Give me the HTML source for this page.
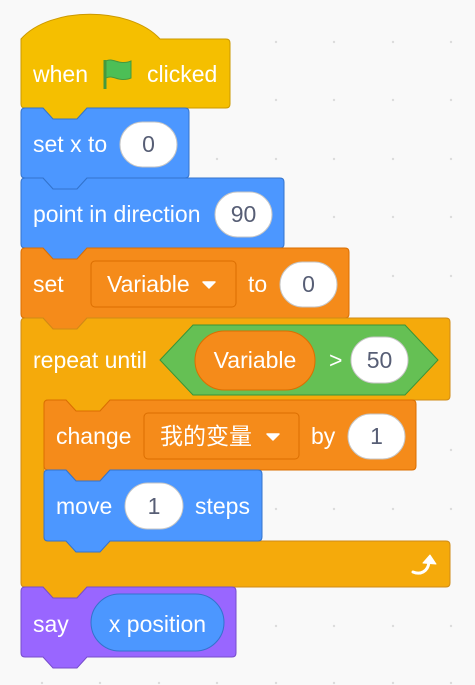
<!DOCTYPE html>
<html><head><meta charset="utf-8"><style>
html,body{margin:0;padding:0;background:#f9f9f9;}
svg{display:block;}
text{font-family:"Liberation Sans","Noto Sans CJK SC",sans-serif;font-size:23px;fill:#fff;}
.n{fill:#575e75;text-anchor:middle;}
.w{fill:#fff;stroke:#c6c6c6;stroke-width:1;}
</style></head><body>
<svg width="475" height="685" viewBox="0 0 475 685" xmlns="http://www.w3.org/2000/svg">
<g fill="#dcdcdc">
<circle cx="276" cy="42" r="1.2"/><circle cx="334" cy="42" r="1.2"/><circle cx="393" cy="42" r="1.2"/><circle cx="451" cy="42" r="1.2"/>
<circle cx="276" cy="100" r="1.2"/><circle cx="334" cy="100" r="1.2"/><circle cx="393" cy="100" r="1.2"/><circle cx="451" cy="100" r="1.2"/>
<circle cx="217" cy="159" r="1.2"/><circle cx="276" cy="159" r="1.2"/><circle cx="334" cy="159" r="1.2"/><circle cx="393" cy="159" r="1.2"/><circle cx="451" cy="159" r="1.2"/>
<circle cx="334" cy="217" r="1.2"/><circle cx="393" cy="217" r="1.2"/><circle cx="451" cy="217" r="1.2"/>
<circle cx="393" cy="276" r="1.2"/><circle cx="451" cy="276" r="1.2"/>
<circle cx="451" cy="450" r="1.2"/>
<circle cx="276" cy="509" r="1.2"/><circle cx="334" cy="509" r="1.2"/><circle cx="393" cy="509" r="1.2"/><circle cx="451" cy="509" r="1.2"/>
<circle cx="276" cy="626" r="1.2"/><circle cx="334" cy="626" r="1.2"/><circle cx="393" cy="626" r="1.2"/><circle cx="451" cy="626" r="1.2"/>
<circle cx="42" cy="683" r="1.2"/><circle cx="100" cy="683" r="1.2"/><circle cx="159" cy="683" r="1.2"/><circle cx="217" cy="683" r="1.2"/><circle cx="276" cy="683" r="1.2"/><circle cx="334" cy="683" r="1.2"/><circle cx="393" cy="683" r="1.2"/><circle cx="451" cy="683" r="1.2"/>
</g>

<!-- hat -->
<path d="M21,39 C50,6 130,6 160,39 H226 Q230,39 230,43 V104 Q230,108 226,108 H87 l-10,11 h-24 l-10,-11 H25 Q21,108 21,104 Z" fill="#f5bf00" stroke="#cc9900" stroke-width="1"/>
<text x="33" y="82">when</text>
<line x1="105" y1="60" x2="105" y2="89" stroke="#45993d" stroke-width="3"/>
<path d="M106,61 C113,57 119,66 131,61 V78 C119,83 113,74 106,78 Z" fill="#4cbf56" stroke="#45993d" stroke-width="1"/>
<text x="147" y="82">clicked</text>

<!-- set x -->
<path d="M21,112 Q21,108 25,108 H43 l10,11 h24 l10,-11 H185 Q189,108 189,112 V174 Q189,178 185,178 H87 l-10,11 h-24 l-10,-11 H25 Q21,178 21,174 Z" fill="#4c97ff" stroke="#3373cc"/>
<text x="33" y="152">set x to</text>
<rect class="w" x="120" y="122" width="57" height="45" rx="22.5"/>
<text class="n" x="148.5" y="152">0</text>

<!-- point in direction -->
<path d="M21,182 Q21,178 25,178 H43 l10,11 h24 l10,-11 H280 Q284,178 284,182 V244 Q284,248 280,248 H87 l-10,11 h-24 l-10,-11 H25 Q21,248 21,244 Z" fill="#4c97ff" stroke="#3373cc"/>
<text x="33" y="222">point in direction</text>
<rect class="w" x="215" y="192" width="57" height="45" rx="22.5"/>
<text class="n" x="243.5" y="222">90</text>

<!-- set variable -->
<path d="M21,252 Q21,248 25,248 H43 l10,11 h24 l10,-11 H345 Q349,248 349,252 V314 Q349,318 345,318 H87 l-10,11 h-24 l-10,-11 H25 Q21,318 21,314 Z" fill="#f58b1a" stroke="#db6e00"/>
<text x="33" y="292">set</text>
<rect x="91" y="261" width="145" height="46" rx="4" fill="#f58b1a" stroke="#db6e00"/>
<text x="107" y="292">Variable</text>
<path d="M203,282 h12 l-6,6 Z" fill="#fff" stroke="#fff" stroke-linejoin="round" stroke-width="1.5"/>
<text x="248" y="292">to</text>
<rect class="w" x="280" y="262" width="57" height="45" rx="22.5"/>
<text class="n" x="308.5" y="292">0</text>

<!-- repeat until -->
<path d="M21,322 Q21,318 25,318 H43 l10,11 h24 l10,-11 H446 Q450,318 450,322 V396 Q450,400 446,400 H110 l-10,11 h-24 l-10,-11 H48 Q44,400 44,404 V537 Q44,541 48,541 H446 Q450,541 450,545 V583 Q450,587 446,587 H87 l-10,11 h-24 l-10,-11 H25 Q21,587 21,583 Z" fill="#f5aa0b" stroke="#cf8b17"/>
<text x="33" y="368">repeat until</text>
<path d="M160,360 L193,325 H405 L438,360 L405,395 H193 Z" fill="#65c054" stroke="#389438"/>
<rect x="195" y="331" width="120" height="59" rx="29.5" fill="#f58b1a" stroke="#db6e00"/>
<text x="255" y="368" text-anchor="middle">Variable</text>
<text x="329" y="368">&gt;</text>
<rect class="w" x="351" y="337" width="57" height="46" rx="23"/>
<text class="n" x="379.5" y="368">50</text>
<path d="M413,572 C420,575 428,572 429,562" fill="none" stroke="#fff" stroke-width="3" stroke-linecap="round"/>
<path d="M423,563 L430,555 L436,564 Z" fill="#fff" stroke="#fff" stroke-linejoin="round"/>

<!-- change -->
<path d="M44,404 Q44,400 48,400 H66 l10,11 h24 l10,-11 H412 Q416,400 416,404 V466 Q416,470 412,470 H110 l-10,11 h-24 l-10,-11 H48 Q44,470 44,466 Z" fill="#f58b1a" stroke="#db6e00"/>
<text x="56" y="444">change</text>
<rect x="144" y="413" width="155" height="46" rx="4" fill="#f58b1a" stroke="#db6e00"/>
<text x="160" y="444">我的变量</text>
<path d="M267,434 h12 l-6,6 Z" fill="#fff" stroke="#fff" stroke-linejoin="round" stroke-width="1.5"/>
<text x="311" y="444">by</text>
<rect class="w" x="348" y="414" width="57" height="45" rx="22.5"/>
<text class="n" x="376.5" y="444">1</text>

<!-- move -->
<path d="M44,474 Q44,470 48,470 H66 l10,11 h24 l10,-11 H258 Q262,470 262,474 V537 Q262,541 258,541 H110 l-10,11 h-24 l-10,-11 H48 Q44,541 44,537 Z" fill="#4c97ff" stroke="#3373cc"/>
<text x="56" y="514">move</text>
<rect class="w" x="125" y="483" width="58" height="46" rx="23"/>
<text class="n" x="154" y="514">1</text>
<text x="195" y="514">steps</text>

<!-- say -->
<path d="M21,591 Q21,587 25,587 H43 l10,11 h24 l10,-11 H232 Q236,587 236,591 V653 Q236,657 232,657 H87 l-10,11 h-24 l-10,-11 H25 Q21,657 21,653 Z" fill="#9966ff" stroke="#774dcb"/>
<text x="33" y="632">say</text>
<rect x="91" y="594" width="133" height="57" rx="28.5" fill="#4c97ff" stroke="#3373cc"/>
<text x="157.5" y="632" text-anchor="middle">x position</text>
</svg>
</body></html>
